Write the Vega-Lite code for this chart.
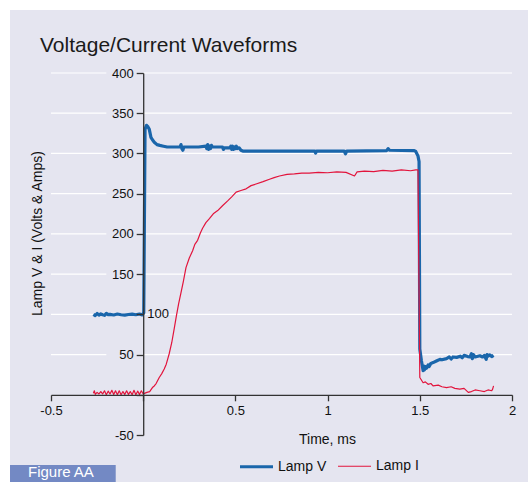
{
  "$schema": "https://vega.github.io/schema/vega-lite/v6.json",
  "autosize": {"type": "none"},
  "padding": {"left": 51, "top": 73, "right": 16, "bottom": 47},
  "width": 461,
  "height": 362,
  "background": "white",
  "config": {
    "font": "Liberation Sans",
    "view": {"stroke": null}
  },
  "datasets": {
    "one": [{}],
    "grid": [{"g": 50}, {"g": 100}, {"g": 150}, {"g": 200}, {"g": 250}, {"g": 300}, {"g": 350}, {"g": 400}],
    "wave": [
      {"t": -0.27, "v": 100, "s": "Lamp V"},
      {"t": -0.26, "v": 98.5, "s": "Lamp V"},
      {"t": -0.25, "v": 101, "s": "Lamp V"},
      {"t": -0.24, "v": 99, "s": "Lamp V"},
      {"t": -0.23, "v": 100.5, "s": "Lamp V"},
      {"t": -0.22, "v": 99.5, "s": "Lamp V"},
      {"t": -0.21, "v": 98.8, "s": "Lamp V"},
      {"t": -0.2, "v": 101.2, "s": "Lamp V"},
      {"t": -0.19, "v": 99.6, "s": "Lamp V"},
      {"t": -0.18, "v": 100, "s": "Lamp V"},
      {"t": -0.16, "v": 99.2, "s": "Lamp V"},
      {"t": -0.14, "v": 100.4, "s": "Lamp V"},
      {"t": -0.12, "v": 99.5, "s": "Lamp V"},
      {"t": -0.1, "v": 99, "s": "Lamp V"},
      {"t": -0.08, "v": 99.8, "s": "Lamp V"},
      {"t": -0.06, "v": 100.3, "s": "Lamp V"},
      {"t": -0.04, "v": 99.5, "s": "Lamp V"},
      {"t": -0.02, "v": 100.4, "s": "Lamp V"},
      {"t": -0.005, "v": 99.2, "s": "Lamp V"},
      {"t": 0, "v": 101, "s": "Lamp V"},
      {"t": 0.003, "v": 102, "s": "Lamp V"},
      {"t": 0.01, "v": 330, "s": "Lamp V"},
      {"t": 0.018, "v": 335, "s": "Lamp V"},
      {"t": 0.026, "v": 333, "s": "Lamp V"},
      {"t": 0.033, "v": 330, "s": "Lamp V"},
      {"t": 0.042, "v": 320, "s": "Lamp V"},
      {"t": 0.05, "v": 317, "s": "Lamp V"},
      {"t": 0.06, "v": 314, "s": "Lamp V"},
      {"t": 0.075, "v": 311, "s": "Lamp V"},
      {"t": 0.09, "v": 310, "s": "Lamp V"},
      {"t": 0.11, "v": 309, "s": "Lamp V"},
      {"t": 0.13, "v": 308, "s": "Lamp V"},
      {"t": 0.2, "v": 308, "s": "Lamp V"},
      {"t": 0.205, "v": 311, "s": "Lamp V"},
      {"t": 0.21, "v": 306, "s": "Lamp V"},
      {"t": 0.215, "v": 304, "s": "Lamp V"},
      {"t": 0.22, "v": 308, "s": "Lamp V"},
      {"t": 0.3, "v": 308, "s": "Lamp V"},
      {"t": 0.34, "v": 309, "s": "Lamp V"},
      {"t": 0.345, "v": 306, "s": "Lamp V"},
      {"t": 0.35, "v": 311, "s": "Lamp V"},
      {"t": 0.355, "v": 305, "s": "Lamp V"},
      {"t": 0.36, "v": 309, "s": "Lamp V"},
      {"t": 0.365, "v": 306, "s": "Lamp V"},
      {"t": 0.37, "v": 310, "s": "Lamp V"},
      {"t": 0.375, "v": 308, "s": "Lamp V"},
      {"t": 0.43, "v": 308, "s": "Lamp V"},
      {"t": 0.435, "v": 305, "s": "Lamp V"},
      {"t": 0.44, "v": 307, "s": "Lamp V"},
      {"t": 0.47, "v": 307, "s": "Lamp V"},
      {"t": 0.475, "v": 309, "s": "Lamp V"},
      {"t": 0.48, "v": 305, "s": "Lamp V"},
      {"t": 0.485, "v": 309, "s": "Lamp V"},
      {"t": 0.49, "v": 305, "s": "Lamp V"},
      {"t": 0.495, "v": 308, "s": "Lamp V"},
      {"t": 0.5, "v": 306, "s": "Lamp V"},
      {"t": 0.505, "v": 309, "s": "Lamp V"},
      {"t": 0.51, "v": 306, "s": "Lamp V"},
      {"t": 0.52, "v": 307, "s": "Lamp V"},
      {"t": 0.53, "v": 304, "s": "Lamp V"},
      {"t": 0.54, "v": 303, "s": "Lamp V"},
      {"t": 0.8, "v": 303, "s": "Lamp V"},
      {"t": 0.93, "v": 303, "s": "Lamp V"},
      {"t": 0.935, "v": 300.5, "s": "Lamp V"},
      {"t": 0.94, "v": 303, "s": "Lamp V"},
      {"t": 1.09, "v": 303, "s": "Lamp V"},
      {"t": 1.097, "v": 299.5, "s": "Lamp V"},
      {"t": 1.104, "v": 303, "s": "Lamp V"},
      {"t": 1.32, "v": 303.5, "s": "Lamp V"},
      {"t": 1.328, "v": 306, "s": "Lamp V"},
      {"t": 1.336, "v": 304, "s": "Lamp V"},
      {"t": 1.47, "v": 303.5, "s": "Lamp V"},
      {"t": 1.478, "v": 302.5, "s": "Lamp V"},
      {"t": 1.49, "v": 297, "s": "Lamp V"},
      {"t": 1.496, "v": 290, "s": "Lamp V"},
      {"t": 1.5, "v": 57, "s": "Lamp V"},
      {"t": 1.509, "v": 42, "s": "Lamp V"},
      {"t": 1.518, "v": 30, "s": "Lamp V"},
      {"t": 1.52, "v": 36, "s": "Lamp V"},
      {"t": 1.525, "v": 31, "s": "Lamp V"},
      {"t": 1.53, "v": 35, "s": "Lamp V"},
      {"t": 1.536, "v": 33, "s": "Lamp V"},
      {"t": 1.545, "v": 37, "s": "Lamp V"},
      {"t": 1.55, "v": 35, "s": "Lamp V"},
      {"t": 1.56, "v": 39, "s": "Lamp V"},
      {"t": 1.572, "v": 40, "s": "Lamp V"},
      {"t": 1.59, "v": 42, "s": "Lamp V"},
      {"t": 1.609, "v": 44, "s": "Lamp V"},
      {"t": 1.62, "v": 43.5, "s": "Lamp V"},
      {"t": 1.645, "v": 45, "s": "Lamp V"},
      {"t": 1.66, "v": 47, "s": "Lamp V"},
      {"t": 1.67, "v": 44.5, "s": "Lamp V"},
      {"t": 1.68, "v": 47, "s": "Lamp V"},
      {"t": 1.7, "v": 46.5, "s": "Lamp V"},
      {"t": 1.72, "v": 48, "s": "Lamp V"},
      {"t": 1.73, "v": 46, "s": "Lamp V"},
      {"t": 1.74, "v": 49, "s": "Lamp V"},
      {"t": 1.76, "v": 47.5, "s": "Lamp V"},
      {"t": 1.772, "v": 47, "s": "Lamp V"},
      {"t": 1.78, "v": 51, "s": "Lamp V"},
      {"t": 1.785, "v": 45, "s": "Lamp V"},
      {"t": 1.79, "v": 50, "s": "Lamp V"},
      {"t": 1.8, "v": 47, "s": "Lamp V"},
      {"t": 1.826, "v": 48.5, "s": "Lamp V"},
      {"t": 1.84, "v": 47, "s": "Lamp V"},
      {"t": 1.85, "v": 49, "s": "Lamp V"},
      {"t": 1.86, "v": 44, "s": "Lamp V"},
      {"t": 1.865, "v": 50, "s": "Lamp V"},
      {"t": 1.87, "v": 48, "s": "Lamp V"},
      {"t": 1.88, "v": 49.5, "s": "Lamp V"},
      {"t": 1.89, "v": 47.5, "s": "Lamp V"},
      {"t": 1.9, "v": 49, "s": "Lamp V"},
      {"t": -0.27, "v": 2, "s": "Lamp I"},
      {"t": -0.265, "v": 5, "s": "Lamp I"},
      {"t": -0.26, "v": 0.5, "s": "Lamp I"},
      {"t": -0.25, "v": 3, "s": "Lamp I"},
      {"t": -0.24, "v": 1, "s": "Lamp I"},
      {"t": -0.23, "v": 4, "s": "Lamp I"},
      {"t": -0.22, "v": 1, "s": "Lamp I"},
      {"t": -0.21, "v": 5, "s": "Lamp I"},
      {"t": -0.2, "v": 0, "s": "Lamp I"},
      {"t": -0.19, "v": 4.5, "s": "Lamp I"},
      {"t": -0.18, "v": 1, "s": "Lamp I"},
      {"t": -0.17, "v": 5.5, "s": "Lamp I"},
      {"t": -0.16, "v": 0.5, "s": "Lamp I"},
      {"t": -0.15, "v": 5, "s": "Lamp I"},
      {"t": -0.14, "v": 0, "s": "Lamp I"},
      {"t": -0.13, "v": 5, "s": "Lamp I"},
      {"t": -0.12, "v": 0, "s": "Lamp I"},
      {"t": -0.11, "v": 4, "s": "Lamp I"},
      {"t": -0.1, "v": 0.5, "s": "Lamp I"},
      {"t": -0.09, "v": 5, "s": "Lamp I"},
      {"t": -0.08, "v": 0.5, "s": "Lamp I"},
      {"t": -0.07, "v": 4, "s": "Lamp I"},
      {"t": -0.06, "v": 0, "s": "Lamp I"},
      {"t": -0.05, "v": 5.5, "s": "Lamp I"},
      {"t": -0.04, "v": 0, "s": "Lamp I"},
      {"t": -0.03, "v": 4.5, "s": "Lamp I"},
      {"t": -0.02, "v": 0.5, "s": "Lamp I"},
      {"t": -0.01, "v": 5, "s": "Lamp I"},
      {"t": 0, "v": 1, "s": "Lamp I"},
      {"t": 0.01, "v": 2, "s": "Lamp I"},
      {"t": 0.02, "v": 3, "s": "Lamp I"},
      {"t": 0.035, "v": 4, "s": "Lamp I"},
      {"t": 0.05, "v": 9, "s": "Lamp I"},
      {"t": 0.06, "v": 11, "s": "Lamp I"},
      {"t": 0.07, "v": 14, "s": "Lamp I"},
      {"t": 0.087, "v": 21.5, "s": "Lamp I"},
      {"t": 0.1, "v": 26, "s": "Lamp I"},
      {"t": 0.114, "v": 32, "s": "Lamp I"},
      {"t": 0.125, "v": 38, "s": "Lamp I"},
      {"t": 0.141, "v": 51, "s": "Lamp I"},
      {"t": 0.155, "v": 65, "s": "Lamp I"},
      {"t": 0.168, "v": 82, "s": "Lamp I"},
      {"t": 0.18, "v": 98, "s": "Lamp I"},
      {"t": 0.192, "v": 113, "s": "Lamp I"},
      {"t": 0.205, "v": 127, "s": "Lamp I"},
      {"t": 0.217, "v": 140, "s": "Lamp I"},
      {"t": 0.232, "v": 158, "s": "Lamp I"},
      {"t": 0.25, "v": 170, "s": "Lamp I"},
      {"t": 0.268, "v": 179, "s": "Lamp I"},
      {"t": 0.28, "v": 187, "s": "Lamp I"},
      {"t": 0.295, "v": 192, "s": "Lamp I"},
      {"t": 0.31, "v": 201, "s": "Lamp I"},
      {"t": 0.322, "v": 207, "s": "Lamp I"},
      {"t": 0.34, "v": 214, "s": "Lamp I"},
      {"t": 0.359, "v": 219, "s": "Lamp I"},
      {"t": 0.38, "v": 225, "s": "Lamp I"},
      {"t": 0.404, "v": 229, "s": "Lamp I"},
      {"t": 0.43, "v": 235, "s": "Lamp I"},
      {"t": 0.458, "v": 241, "s": "Lamp I"},
      {"t": 0.48, "v": 246, "s": "Lamp I"},
      {"t": 0.504, "v": 252, "s": "Lamp I"},
      {"t": 0.53, "v": 254, "s": "Lamp I"},
      {"t": 0.558, "v": 256, "s": "Lamp I"},
      {"t": 0.585, "v": 260, "s": "Lamp I"},
      {"t": 0.612, "v": 262, "s": "Lamp I"},
      {"t": 0.65, "v": 265, "s": "Lamp I"},
      {"t": 0.685, "v": 268, "s": "Lamp I"},
      {"t": 0.71, "v": 270, "s": "Lamp I"},
      {"t": 0.739, "v": 272, "s": "Lamp I"},
      {"t": 0.78, "v": 274, "s": "Lamp I"},
      {"t": 0.82, "v": 274.5, "s": "Lamp I"},
      {"t": 0.86, "v": 275.5, "s": "Lamp I"},
      {"t": 0.9, "v": 275.5, "s": "Lamp I"},
      {"t": 0.95, "v": 276.5, "s": "Lamp I"},
      {"t": 1.0, "v": 276, "s": "Lamp I"},
      {"t": 1.05, "v": 277, "s": "Lamp I"},
      {"t": 1.1, "v": 276.5, "s": "Lamp I"},
      {"t": 1.146, "v": 272, "s": "Lamp I"},
      {"t": 1.16, "v": 277, "s": "Lamp I"},
      {"t": 1.2, "v": 278, "s": "Lamp I"},
      {"t": 1.25, "v": 277.5, "s": "Lamp I"},
      {"t": 1.3, "v": 279, "s": "Lamp I"},
      {"t": 1.35, "v": 278, "s": "Lamp I"},
      {"t": 1.4, "v": 279.5, "s": "Lamp I"},
      {"t": 1.45, "v": 278.5, "s": "Lamp I"},
      {"t": 1.478, "v": 279.5, "s": "Lamp I"},
      {"t": 1.49, "v": 279.5, "s": "Lamp I"},
      {"t": 1.5, "v": 21.5, "s": "Lamp I"},
      {"t": 1.518, "v": 15, "s": "Lamp I"},
      {"t": 1.53, "v": 16, "s": "Lamp I"},
      {"t": 1.545, "v": 13, "s": "Lamp I"},
      {"t": 1.56, "v": 14, "s": "Lamp I"},
      {"t": 1.572, "v": 11, "s": "Lamp I"},
      {"t": 1.6, "v": 12, "s": "Lamp I"},
      {"t": 1.62, "v": 10, "s": "Lamp I"},
      {"t": 1.645, "v": 9, "s": "Lamp I"},
      {"t": 1.67, "v": 10, "s": "Lamp I"},
      {"t": 1.69, "v": 8, "s": "Lamp I"},
      {"t": 1.717, "v": 7, "s": "Lamp I"},
      {"t": 1.74, "v": 8, "s": "Lamp I"},
      {"t": 1.763, "v": 3, "s": "Lamp I"},
      {"t": 1.78, "v": 4, "s": "Lamp I"},
      {"t": 1.8, "v": 6, "s": "Lamp I"},
      {"t": 1.826, "v": 5, "s": "Lamp I"},
      {"t": 1.85, "v": 4, "s": "Lamp I"},
      {"t": 1.87, "v": 6, "s": "Lamp I"},
      {"t": 1.89, "v": 5, "s": "Lamp I"},
      {"t": 1.895, "v": 7, "s": "Lamp I"},
      {"t": 1.9, "v": 11, "s": "Lamp I"}
    ]
  },
  "layer": [
    {
      "data": {"name": "one"},
      "mark": {"type": "rect", "color": "#e5e5f0", "clip": false},
      "encoding": {
        "x": {"datum": -0.7223, "type": "quantitative", "scale": {"domain": [-0.5, 2], "nice": false, "zero": false}},
        "x2": {"datum": 2.2},
        "y": {"datum": 478.3, "type": "quantitative", "scale": {"domain": [-50, 400], "nice": false, "zero": false}},
        "y2": {"datum": -130}
      }
    },
    {
      "data": {"name": "one"},
      "mark": {"type": "rect", "color": "#7389c4", "clip": false},
      "encoding": {
        "x": {"datum": -0.7223, "type": "quantitative"},
        "x2": {"datum": -0.149},
        "y": {"datum": -87.3, "type": "quantitative"},
        "y2": {"datum": -130}
      }
    },
    {
      "data": {"name": "one"},
      "mark": {"type": "text", "color": "white", "fontSize": 15, "align": "left", "baseline": "alphabetic", "clip": false},
      "encoding": {
        "x": {"datum": -0.6247, "type": "quantitative"},
        "y": {"datum": -102.5, "type": "quantitative"},
        "text": {"value": "Figure AA"}
      }
    },
    {
      "data": {"name": "one"},
      "mark": {"type": "text", "color": "#1a1a1a", "fontSize": 21, "align": "left", "baseline": "alphabetic", "clip": false},
      "encoding": {
        "x": {"datum": -0.5597, "type": "quantitative"},
        "y": {"datum": 426.1, "type": "quantitative"},
        "text": {"value": "Voltage/Current Waveforms"}
      }
    },
    {
      "data": {"name": "grid"},
      "mark": {"type": "rule", "color": "white", "strokeWidth": 1.2},
      "encoding": {
        "y": {"field": "g", "type": "quantitative"},
        "x": {"datum": -0.5, "type": "quantitative"},
        "x2": {"datum": -0.2}
      }
    },
    {
      "data": {"name": "grid"},
      "mark": {"type": "rule", "color": "white", "strokeWidth": 1.2},
      "encoding": {
        "y": {"field": "g", "type": "quantitative"},
        "x": {"datum": 0, "type": "quantitative"},
        "x2": {"datum": 2}
      }
    },
    {
      "data": {"name": "wave"},
      "mark": {"type": "line", "strokeJoin": "round"},
      "encoding": {
        "x": {
          "field": "t", "type": "quantitative",
          "axis": {
            "title": "Time, ms", "offset": -40.2, "zindex": 1,
            "values": [-0.5, 0, 0.5, 1, 1.5, 2],
            "labelExpr": "datum.value == 0 ? '' : '' + datum.value",
            "grid": false, "tickSize": 6, "labelPadding": 4,
            "domainColor": "#333", "tickColor": "#333", "domainWidth": 1.3, "tickWidth": 1.3,
            "labelFontSize": 13, "labelColor": "#111", "labelFlush": false,
            "titleFontSize": 14, "titleFontWeight": "normal", "titleColor": "#111",
            "titleX": 276, "titleY": 45, "titleBaseline": "middle", "titleAnchor": null
          }
        },
        "y": {
          "field": "v", "type": "quantitative",
          "axis": {
            "title": "Lamp V & I (Volts & Amps)", "offset": -92.2, "zindex": 1,
            "values": [-50, 0, 50, 100, 150, 200, 250, 300, 350, 400],
            "labelExpr": "datum.value == 0 || datum.value == 100 ? '' : '' + datum.value",
            "grid": false, "tickSize": 7, "labelPadding": 3,
            "domainColor": "#333", "tickColor": "#333", "domainWidth": 1.3, "tickWidth": 1.3,
            "labelFontSize": 13, "labelColor": "#111", "labelFlush": false,
            "titleFontSize": 14, "titleFontWeight": "normal", "titleColor": "#111",
            "titleX": -106, "titleY": 160, "titleBaseline": "middle", "titleAngle": 270
          }
        },
        "color": {
          "field": "s", "type": "nominal",
          "scale": {"domain": ["Lamp V", "Lamp I"], "range": ["#1a66ab", "#e2143c"]},
          "legend": {
            "title": null, "orient": "none", "direction": "horizontal", "columns": 2,
            "legendX": 187, "legendY": 375, "zindex": 1,
            "symbolType": "stroke", "symbolSize": 1089,
            "labelFontSize": 14, "labelColor": "#111", "labelOffset": 3, "columnPadding": 8
          }
        },
        "strokeWidth": {
          "field": "s", "type": "nominal",
          "scale": {"domain": ["Lamp V", "Lamp I"], "range": [3.2, 1.2]},
          "legend": {
            "title": null, "orient": "none", "direction": "horizontal", "columns": 2,
            "legendX": 187, "legendY": 375, "zindex": 1,
            "symbolType": "stroke", "symbolSize": 1089,
            "labelFontSize": 14, "labelColor": "#111", "labelOffset": 3, "columnPadding": 8
          }
        }
      }
    },
    {
      "data": {"name": "one"},
      "mark": {"type": "text", "fontSize": 13, "align": "left", "baseline": "middle", "dx": 4, "color": "#111"},
      "encoding": {
        "x": {"datum": 0, "type": "quantitative"},
        "y": {"datum": 100, "type": "quantitative"},
        "text": {"value": "100"}
      }
    }
  ]
}
